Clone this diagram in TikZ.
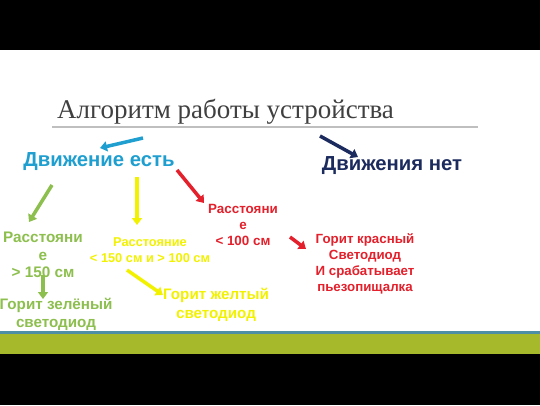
\documentclass[tikz,border=0pt]{standalone}
\usepackage{fontspec}
\setmainfont{Liberation Sans}
\newfontfamily\titlefont{Liberation Serif}
\usetikzlibrary{arrows.meta}
\definecolor{cyanc}{HTML}{1E9FD0}
\definecolor{navyc}{HTML}{1C2B5E}
\definecolor{greenc}{HTML}{8DBF4E}
\definecolor{yellowc}{HTML}{F2F200}
\definecolor{redc}{HTML}{E3202B}
\definecolor{olivec}{HTML}{A5B92B}
\definecolor{bluel}{HTML}{4E8FA6}
\definecolor{titlec}{HTML}{404040}
\begin{document}
\begin{tikzpicture}[x=1pt,y=-1pt,
 lbl/.style={font=\bfseries, align=center, inner sep=0pt},
 arr/.style={line width=3.5pt, -{Triangle[length=7pt,width=10pt]}},
]
\useasboundingbox (0,0) rectangle (540,405);
\fill[black] (0,0) rectangle (540,49.5);
\fill[white] (0,49.5) rectangle (540,331);
\fill[bluel] (0,331) rectangle (540,333.5);
\fill[olivec] (0,333.5) rectangle (540,354);
\fill[black] (0,354) rectangle (540,405);

\node[anchor=base west, inner sep=0pt, text=titlec, font=\titlefont\fontsize{27}{32}\selectfont] (title) at (57,118) {Алгоритм работы устройства};
\draw[black!25, line width=1.2pt] (52,127) -- (478,127);

\node[lbl, text=cyanc, font=\bfseries\fontsize{20.3}{24}\selectfont] (de) at (99,162) {Движение есть};
\node[lbl, text=navyc, font=\bfseries\fontsize{20.3}{24}\selectfont] (dn) at (392,166) {Движения нет};
\node[lbl, text=redc, font=\bfseries\fontsize{13.4}{16}\selectfont] (rd) at (243,225) {Расстояни\\е\\< 100 см};
\node[lbl, text=redc, font=\bfseries\fontsize{13.3}{16}\selectfont] (rl) at (365,264) {Горит красный\\Светодиод\\И срабатывает\\пьезопищалка};
\node[lbl, text=greenc, font=\bfseries\fontsize{15.3}{17.5}\selectfont] (gd) at (43,255) {Расстояни\\е\\> 150 см};
\node[lbl, text=greenc, font=\bfseries\fontsize{15.2}{18}\selectfont] (gl) at (56,314) {Горит зелёный\\светодиод};
\node[lbl, text=yellowc, font=\bfseries\fontsize{12.8}{16}\selectfont] (yd) at (150,250) {Расстояние\\< 150 см и > 100 см};
\node[lbl, text=yellowc, font=\bfseries\fontsize{15.2}{18.5}\selectfont] (yl) at (216,305) {Горит желтый\\светодиод};

\coordinate (c1) at (143,138); \coordinate (c2) at (100,148);
\coordinate (n1) at (320,136); \coordinate (n2) at (358,157);
\coordinate (g1) at (52,185);  \coordinate (g2) at (29,222);
\coordinate (y1) at (137,177); \coordinate (y2) at (137,225);
\coordinate (r1) at (177,170); \coordinate (r2) at (204,203);
\coordinate (s1) at (290,237); \coordinate (s2) at (306,249);
\coordinate (h1) at (43,275);  \coordinate (h2) at (43,299);
\coordinate (k1) at (127,270); \coordinate (k2) at (163,295);

\draw[arr, cyanc] (c1) -- (c2);
\draw[arr, navyc] (n1) -- (n2);
\draw[arr, greenc] (g1) -- (g2);
\draw[arr, yellowc] (y1) -- (y2);
\draw[arr, redc] (r1) -- (r2);
\draw[arr, redc] (s1) -- (s2);
\draw[arr, greenc] (h1) -- (h2);
\draw[arr, yellowc] (k1) -- (k2);
\end{tikzpicture}
\end{document}
